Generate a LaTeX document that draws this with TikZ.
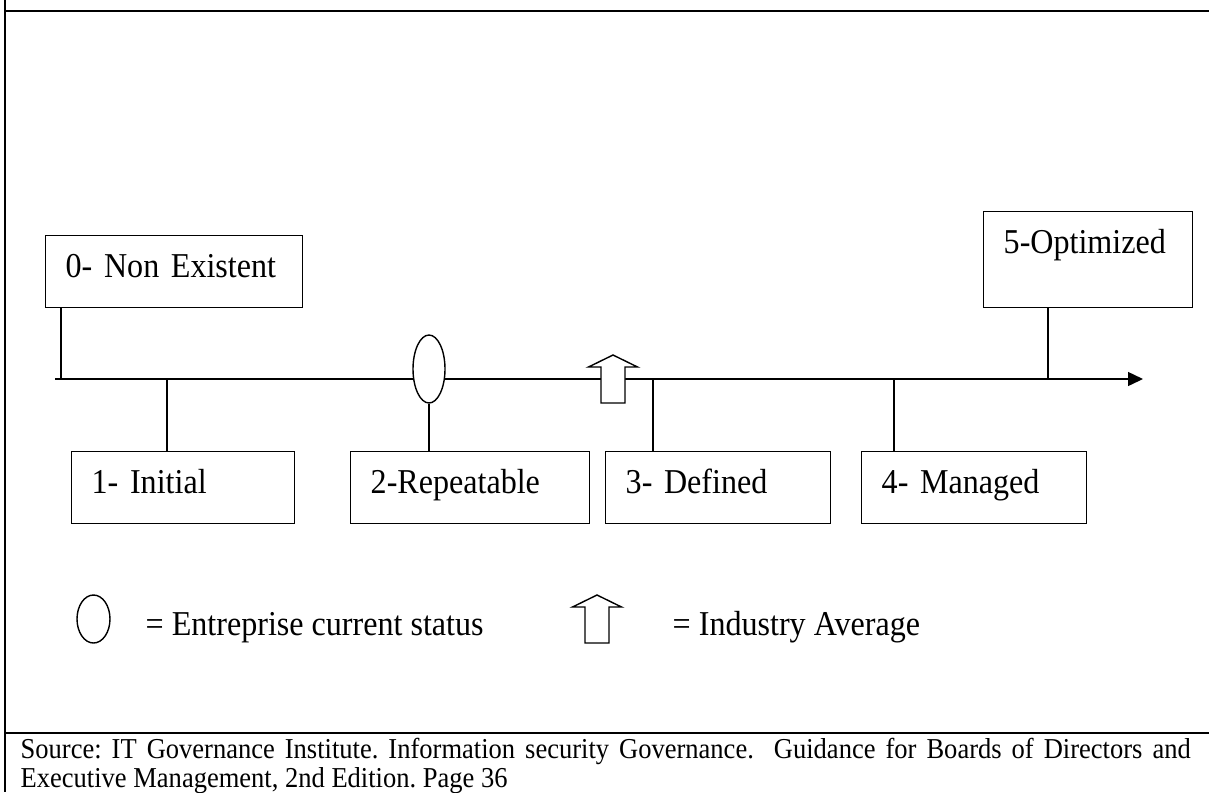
\documentclass[tikz,border=0pt]{standalone}
\usepackage{fontspec}
\setmainfont{Liberation Serif}
\newfontfamily\narrowserif[FakeStretch=0.92]{Liberation Serif}
\usetikzlibrary{shapes.geometric,arrows.meta}

\newlength\px
\setlength\px{0.025cm}
\newcommand\stagefont{\narrowserif\fontsize{24.8}{28}\selectfont}
\newcommand\sourcefont{\narrowserif\fontsize{20.5}{21.3}\selectfont}

\tikzset{
  stage/.style={draw, anchor=north west, inner xsep=20\px, inner ysep=0pt,
    align=left, text height=42\px, text depth=30\px, font=\stagefont},
  status/.style={draw, ellipse, fill=white, inner sep=0pt},
  label/.style={anchor=base west, inner sep=0pt, font=\stagefont},
  pics/avgarrow/.style={code={
    \draw[fill=white] (-12,0) -- (-12,-36) -- (-24.5,-36) -- (0,-48)
      -- (24.5,-36) -- (12,-36) -- (12,0) -- cycle;}}
}

\begin{document}
\frenchspacing
\begin{tikzpicture}[x=0.025cm, y=-0.025cm, line width=1pt]
\useasboundingbox (0,0) rectangle (1209,792);
% frame
\draw[line width=1.5pt] (5,0) -- (5,792);
\draw[line width=1.5pt] (5,11) -- (1209,11);
\draw[line width=1.5pt] (5,733) -- (1209,733);

% scale
\coordinate (start) at (55,379);
\coordinate (end) at (1143,379);
\draw[-{Triangle[length=0.375cm, width=0.35cm]}] (start) -- (end);
\foreach \n/\x in {0/61,1/167,3/653,4/894,5/1048}
{\coordinate (t\n) at (\x,379);}

% levels
\node[stage, text width=217\px] (s0) at (45,235) {0- Non Existent};
\node[stage, text width=183\px] (s1) at (71,451) {1- Initial};
\node[stage, text width=199\px] (s2) at (350,451) {2-Repeatable};
\node[stage, text width=185\px] (s3) at (605,451) {3- Defined};
\node[stage, text width=185\px] (s4) at (861,451) {4- Managed};
\node[stage, text width=169\px, text depth=54\px] (s5) at (983,211) {5-Optimized};

\draw (s0.south -| t0) -- (t0);
\draw (t1) -- (t1 |- s1.north);
\draw (t3) -- (t3 |- s3.north);
\draw (t4) -- (t4 |- s4.north);
\draw (s5.south -| t5) -- (t5);

% markers
\node[status, minimum width=32\px, minimum height=68\px] (cur) at (429,369) {};
\draw (cur.south) -- (cur.south |- s2.north);
\pic at (613,403) {avgarrow};

% legend
\node[status, minimum width=33\px, minimum height=48\px] (keycur) at (93.5,619) {};
\node[label] (keycurtext) at (145,635) {= Entreprise current status};
\pic at (597,643) {avgarrow};
\node[label] (keyavgtext) at (672,635) {= Industry Average};

% source
\node[anchor=base west, inner sep=0pt, text width=1170\px, align=justify,
  font=\sourcefont] (source) at (20,758)
  {Source: IT Governance Institute. Information security Governance.\ \ Guidance
  for Boards of Directors and\linebreak Executive Management, 2nd Edition. Page 36};
\end{tikzpicture}
\end{document}
